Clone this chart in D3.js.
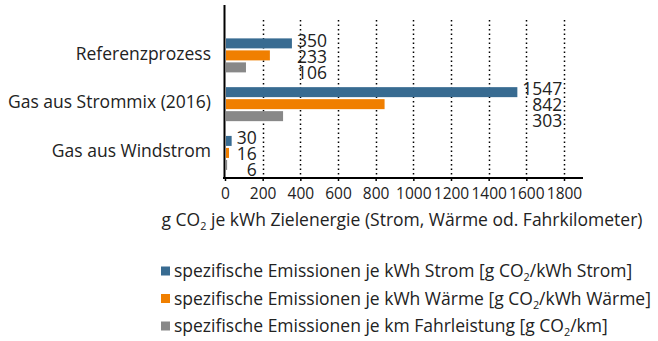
<!DOCTYPE html>
<html>
<head>
<meta charset="utf-8">
<script src="https://cdn.jsdelivr.net/npm/d3@7"></script>
<style>
  html, body { margin: 0; padding: 0; background: #fff; }
  svg { display: block; font-family: "Open Sans", "Noto Sans", sans-serif; }
</style>
</head>
<body>
<svg id="chart" width="658" height="341"></svg>
<script>
// Categories (top to bottom) and the three emission series
const categories = ["Referenzprozess", "Gas aus Strommix (2016)", "Gas aus Windstrom"];
const strom = [350, 1547, 30];
const waerme = [233, 842, 16];
const fahrleistung = [106, 303, 6];
const xTicks = [0, 200, 400, 600, 800, 1000, 1200, 1400, 1600, 1800];
const seriesNames = [
  "spezifische Emissionen je kWh Strom [g CO|2|/kWh Strom]",
  "spezifische Emissionen je kWh Wärme [g CO|2|/kWh Wärme]",
  "spezifische Emissionen je km Fahrleistung [g CO|2|/km]"
];
const axisTitle = "g CO|2| je kWh Zielenergie (Strom, Wärme od. Fahrkilometer)";
const colors = ["#386b91", "#f07f00", "#888888"];

const series = [strom, waerme, fahrleistung];
const svg = d3.select("#chart");

const x = d3.scaleLinear().domain([0, 1800]).range([225, 564]);
const y = d3.scaleBand().domain(categories).range([31, 177.3]);
const barH = 10, barStep = 12;
const labelSize = 17.5;

// dotted vertical gridlines
svg.append("g").selectAll("line")
  .data(xTicks.filter(d => d > 0))
  .join("line")
  .attr("x1", d => Math.round(x(d)) + 0.5).attr("x2", d => Math.round(x(d)) + 0.5)
  .attr("y1", 20).attr("y2", 177)
  .attr("stroke", "#000").attr("stroke-width", 1.5)
  .attr("stroke-dasharray", "1.5,3");

const center = c => y(c) + y.bandwidth() / 2;
const groupTop = c => center(c) - (barStep * 3 - 2) / 2;

// bars
categories.forEach((c, ci) => {
  const top = groupTop(c);
  series.forEach((s, si) => {
    svg.append("rect")
      .attr("x", x(0) + 1)
      .attr("y", top + si * barStep)
      .attr("width", Math.max(0, x(s[ci]) - x(0)))
      .attr("height", barH)
      .attr("fill", colors[si]);
  });
});

// value labels: right-aligned column just past the longest bar of each group
categories.forEach((c, ci) => {
  const mid = center(c) + 1;
  const vals = series.map(s => s[ci]);
  const maxV = d3.max(vals);
  const probe = svg.append("text").attr("font-size", labelSize).text(String(maxV));
  const w = probe.node().getComputedTextLength();
  probe.remove();
  const right = x(maxV) + 6 + w;
  vals.forEach((v, si) => {
    svg.append("text")
      .attr("x", right)
      .attr("y", mid + (si - 1) * 16)
      .attr("dy", "0.36em")
      .attr("text-anchor", "end")
      .attr("font-size", labelSize)
      .attr("fill", "#222")
      .text(v);
  });
});

// category labels
svg.append("g").selectAll("text")
  .data(categories)
  .join("text")
  .attr("x", 211)
  .attr("y", d => center(d) - 2)
  .attr("dy", "0.35em")
  .attr("text-anchor", "end")
  .attr("font-size", labelSize)
  .attr("fill", "#222")
  .text(d => d);

// x axis
const xAxis = svg.append("g")
  .attr("transform", "translate(0,178)")
  .call(d3.axisBottom(x).tickValues(xTicks).tickFormat(d3.format("d")).tickSize(3).tickSizeOuter(0));
xAxis.select(".domain").remove();
xAxis.selectAll(".tick line").attr("stroke", "#000").attr("stroke-width", 1.5);
xAxis.selectAll(".tick text")
  .attr("font-family", "\"Open Sans\", sans-serif")
  .attr("font-size", 15.5).attr("fill", "#222").attr("dy", "0.95em");
svg.append("line")
  .attr("x1", 223).attr("x2", 583).attr("y1", 178).attr("y2", 178)
  .attr("stroke", "#000").attr("stroke-width", 2);
// y axis line
svg.append("line")
  .attr("x1", 224.5).attr("x2", 224.5).attr("y1", 5).attr("y2", 179)
  .attr("stroke", "#000").attr("stroke-width", 2);

// text with "|2|" marking a subscript
function richText(sel, str, size) {
  str.split("|").forEach((part, i) => {
    const t = sel.append("tspan").text(part);
    if (i % 2 === 1) {
      t.attr("font-size", size * 0.62).attr("dy", 4);
    } else if (i > 0) {
      t.attr("dy", -4);
    }
  });
}

// axis title
const title = svg.append("text")
  .attr("x", 402).attr("y", 226)
  .attr("text-anchor", "middle")
  .attr("font-size", 17.5).attr("fill", "#222");
richText(title, axisTitle, 17.5);

// legend
const legend = svg.append("g");
seriesNames.forEach((name, i) => {
  const ly = 271 + i * 27.5;
  legend.append("rect")
    .attr("x", 161).attr("y", ly - 4.5)
    .attr("width", 9).attr("height", 9)
    .attr("fill", colors[i]);
  const t = legend.append("text")
    .attr("x", 174).attr("y", ly + 6)
    .attr("font-size", 17.5).attr("fill", "#222");
  richText(t, name, 17.5);
});
</script>
</body>
</html>
